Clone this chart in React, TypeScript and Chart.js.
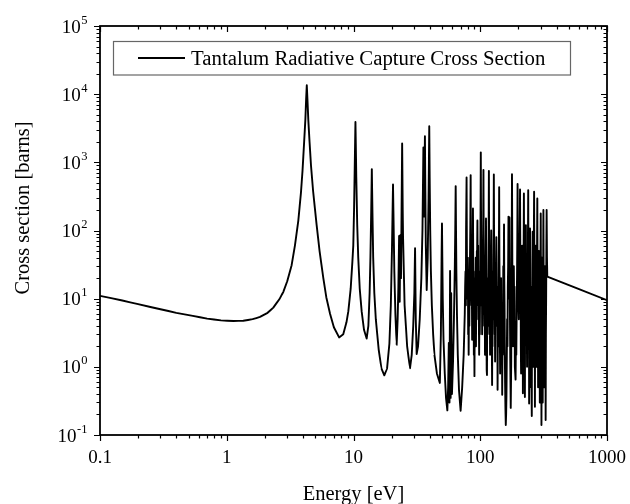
import { useEffect, useRef } from "react";
import { Chart, registerables } from "chart.js";

Chart.register(...registerables);

// [energy (eV), cross section (barns)]
const thermalRegion: [number, number][] = [
  [0.1, 11], [0.15, 9.4], [0.2, 8.3], [0.3, 7.0], [0.4, 6.2], [0.54, 5.6], [0.7, 5.1], [0.9, 4.8],
  [1.13, 4.7], [1.35, 4.75], [1.6, 5.0], [1.83, 5.4], [2.1, 6.2], [2.33, 7.4], [2.6, 9.8], [2.79, 12.5],
  [3.0, 18], [3.25, 31], [3.45, 60], [3.67, 140], [3.85, 360], [3.96, 750], [4.08, 2000], [4.17, 4200],
  [4.23, 8500], [4.28, 13500], [4.33, 8500], [4.4, 4200], [4.5, 2000], [4.62, 900], [4.8, 380], [5.12, 120],
  [5.4, 50], [5.78, 20], [6.1, 10.5], [6.53, 6.0], [7.0, 3.8], [7.7, 2.7], [8.3, 3.0], [8.8, 4.5],
  [9.1, 6.5], [9.5, 14], [9.8, 35], [9.96, 60], [10.1, 200], [10.22, 800], [10.3, 2000], [10.36, 3900],
  [10.42, 2000], [10.52, 600], [10.7, 120], [10.9, 40], [11.2, 14], [11.6, 6.5], [12.1, 3.5], [12.7, 2.6],
  [13.1, 4], [13.4, 12], [13.6, 40], [13.8, 200], [13.95, 795], [14.1, 200], [14.3, 40], [14.6, 12],
  [15.0, 5], [15.8, 1.8], [16.6, 0.95], [17.5, 0.75], [18.4, 0.95], [19.2, 2.2], [19.7, 8], [20.1, 50],
];

const lowResonances: [number, number][] = [
  [20.5, 474], [20.8, 80], [21.0, 25], [21.4, 6], [21.9, 2.1], [22.3, 5], [22.6, 15], [22.9, 83],
  [23.15, 9], [23.4, 85], [23.7, 20], [23.95, 200], [24.2, 1890], [24.45, 200], [24.6, 80], [25.3, 8],
  [26.5, 2], [27.9, 0.95], [28.8, 1.5], [29.6, 4], [30.2, 12], [30.6, 55], [31.0, 5], [31.5, 1.54],
  [32.3, 2], [33.3, 5], [34.3, 20], [35.0, 100], [35.6, 1650], [36.0, 160], [36.6, 2420], [37.2, 60],
  [37.8, 13.4], [38.5, 40], [39.1, 300], [39.6, 3390], [39.9, 600], [40.3, 100], [40.8, 25], [41.5, 8],
  [42.5, 3], [43.5, 1.5], [45.5, 0.8], [48, 0.58], [48.9, 3], [49.3, 15], [49.6, 50], [49.9, 127],
  [50.2, 40], [50.6, 10], [51.3, 2.5], [52.5, 0.8], [53.7, 0.35], [55, 0.23], [55.8, 0.5], [56.3, 1.5],
  [56.5, 2.25], [56.8, 0.6], [57.2, 0.3], [57.6, 5], [57.8, 25.6], [58.1, 2], [58.4, 0.35], [58.8, 3],
  [59, 12], [59.3, 2], [59.8, 0.4], [61, 1.2], [62, 5], [63, 30], [63.5, 100], [64, 448],
  [64.4, 100], [64.8, 25], [65.5, 6], [66.5, 1.5], [68, 0.45], [70, 0.227], [72, 0.5], [74, 1.5],
];

const midResonances: [number, number][] = [
  [75.5, 6], [76, 15], [76.5, 25], [77, 8], [77.3, 100], [78, 600], [78.4, 60], [78.8, 15],
  [79.3, 10], [79.8, 40], [80.3, 3], [80.7, 8], [81, 1.5], [81.5, 10], [82, 4], [82.5, 20],
  [83, 40], [83.5, 120], [84, 650], [84.4, 60], [84.8, 15], [85.3, 8], [85.8, 20], [86.3, 2.5],
  [86.7, 10], [87, 30], [87.6, 210], [88, 40], [88.3, 10], [88.7, 20], [89, 1.5], [89.5, 5],
  [90, 0.73], [90.5, 6], [91, 2], [91.4, 25], [91.8, 15], [92.2, 40], [92.5, 2], [93, 12],
  [93.5, 8], [94, 50], [94.3, 30], [95, 140], [95.4, 40], [95.8, 20], [96.2, 60], [96.5, 5],
  [96.9, 15], [97.2, 25], [97.6, 4], [98, 1.5], [98.7, 12], [99.1, 3], [99.5, 8], [100, 30],
  [100.4, 100], [101, 1400], [101.4, 200], [101.7, 80], [102, 20], [102.4, 8], [103, 30], [103.5, 3],
  [104, 12], [104.4, 6], [104.8, 20], [105.4, 90], [106, 770], [106.4, 100], [106.8, 40], [107.2, 12],
  [107.6, 4], [108, 20], [108.3, 15], [108.7, 5], [109, 1.5], [109.5, 12], [110, 8], [110.5, 40],
  [111, 150], [111.4, 30], [111.8, 8], [112.4, 0.9], [113, 0.76], [113.5, 8], [114, 3], [114.4, 12],
  [114.8, 20], [115.1, 6], [115.4, 4], [115.7, 15], [116, 30], [116.5, 100], [117, 750], [117.4, 100],
  [117.8, 40], [118.2, 10], [118.7, 3], [119.1, 8], [119.5, 1.5], [120, 10], [120.3, 20], [120.6, 5],
  [121, 8], [121.5, 30], [122, 100], [122.5, 20], [123, 4], [123.5, 2], [124, 0.54], [124.5, 4],
  [125, 2], [125.4, 10], [125.8, 25], [126.2, 8], [126.5, 5], [127, 40], [127.5, 100], [128, 665],
  [128.5, 100], [129, 40], [129.5, 8], [130, 3], [130.5, 6], [131, 1.2], [131.5, 5], [132, 10],
  [132.4, 25], [132.8, 6], [133.4, 20], [134, 80], [134.6, 15], [135.3, 4], [135.8, 8], [136.2, 15],
  [136.6, 3], [137, 0.46], [137.8, 4], [138.8, 2], [139.4, 10], [140, 40], [140.5, 80], [141, 430],
  [141.6, 40], [142.2, 15], [142.8, 3], [143.5, 0.8], [144, 3], [144.5, 6], [144.8, 2], [145, 2.5],
  [145.5, 8], [146, 20], [146.7, 4], [147.4, 1.5], [147.8, 4], [148.2, 6], [148.6, 1.5], [149, 0.39],
  [150, 3], [151, 1.5], [151.5, 8], [152, 30], [152.3, 12], [152.6, 8], [153.2, 15], [153.6, 40],
  [154, 123], [154.7, 20], [155.5, 8], [156.2, 2], [157, 0.6], [158, 0.25], [159, 0.14], [160, 0.2],
];

const highResonances: [number, number][] = [
  [161, 0.4], [163, 5], [164, 2], [165, 15], [166, 30], [167, 160], [168, 30], [168.5, 10],
  [169.2, 25], [170, 155], [171.2, 10], [172.5, 1.2], [174, 0.25], [175.5, 1.2], [176.3, 12], [177, 40],
  [178, 670], [179.2, 30], [180.5, 3], [181.3, 2], [182.7, 6], [183.4, 12], [184, 30], [185.5, 5],
  [186.4, 15], [187.5, 1], [190, 0.65], [191.5, 4], [192.5, 1.5], [194, 8], [195, 20], [196, 70],
  [197, 480], [198.5, 40], [199.2, 12], [200, 8], [201.5, 5], [202.5, 60], [203.5, 20], [205, 80],
  [206, 400], [207.5, 20], [208.3, 40], [209, 2], [210, 0.8], [211, 10], [212, 4], [213, 20],
  [214, 60], [215.5, 3], [216.3, 10], [217, 0.41], [218, 8], [219, 4], [220, 60], [221, 350],
  [222, 30], [223, 5], [224, 15], [225, 0.36], [226, 8], [227, 5], [228, 30], [229, 120],
  [230, 15], [231, 5], [232.5, 12], [234, 1.0], [235.5, 30], [236.5, 10], [238, 90], [239, 390],
  [240, 40], [241, 5], [242, 12], [243, 0.29], [244, 10], [245, 5], [246, 40], [247, 107],
  [248, 20], [249, 3], [250, 15], [251, 0.5], [253, 1], [255, 0.19], [256, 6], [257, 3],
  [258, 30], [259, 96], [260.5, 3], [261.2, 15], [262, 1], [263, 8], [264, 20], [265, 100],
  [266, 370], [267, 40], [268, 4], [269, 12], [270, 0.26], [271, 10], [272, 3], [273, 20],
  [274, 60], [275, 10], [276, 3], [277, 20], [278, 1], [279, 8], [280, 20], [281, 80],
  [282, 295], [283, 30], [284, 4], [285, 12], [286, 0.5], [287, 10], [288, 5], [289, 20],
  [290, 50], [291, 8], [292.5, 2], [294, 6], [295, 0.3], [296.5, 12], [297.5, 5], [299, 50],
  [300, 178], [301, 20], [302, 2], [303, 5], [304, 0.14], [305.5, 3], [306.3, 12], [307, 40],
  [308, 10], [309, 2], [310, 6], [311, 0.3], [312, 4], [313, 10], [314, 50], [315, 200],
  [316.5, 15], [317.5, 4], [318.5, 10], [320, 0.5], [321, 5], [322, 3], [323, 12], [324, 30],
  [325, 6], [326, 1], [327, 4], [328, 0.166], [329.5, 3], [331, 10], [332.5, 60], [334, 200],
  [336, 40], [338, 21],
];

const highEnergyTail: [number, number][] = [[1000, 9.5]];

const samples = [
  ...thermalRegion, ...lowResonances, ...midResonances, ...highResonances, ...highEnergyTail,
];
const energy = samples.map((p) => p[0]);
const crossSection = samples.map((p) => p[1]);

const xTickValues = [0.1, 1, 10, 100, 1000];
const xTickLabels = ["0.1", "1", "10", "100", "1000"];
const yTickValues = [0.1, 1, 10, 100, 1000, 10000, 100000];
const yTickExponents = ["-1", "0", "1", "2", "3", "4", "5"];
const seriesLabel = "Tantalum Radiative Capture Cross Section";
const xTitle = "Energy [eV]";
const yTitle = "Cross section [barns]";

const FONT = '"Liberation Serif", "Times New Roman", serif';

function minorTicks(majors: number[]): number[] {
  const out: number[] = [];
  for (let i = 0; i < majors.length - 1; i++) {
    for (let m = 2; m <= 9; m++) out.push(majors[i] * m);
  }
  return out;
}

const framePlugin = {
  id: "framePlugin",
  afterDraw(chart: any) {
    const { ctx, chartArea: a, scales } = chart;
    const xs = scales.x;
    const ys = scales.y;
    ctx.save();
    ctx.strokeStyle = "#000";
    ctx.lineWidth = 1.2;
    ctx.beginPath();
    const major = 6;
    const minor = 3.5;
    const xTicks = [
      ...xTickValues.map((v) => [v, major]),
      ...minorTicks(xTickValues).map((v) => [v, minor]),
    ];
    for (const [v, len] of xTicks) {
      const px = Math.round(xs.getPixelForValue(v)) + 0.5;
      ctx.moveTo(px, a.bottom);
      ctx.lineTo(px, a.bottom + len);
      ctx.moveTo(px, a.top);
      ctx.lineTo(px, a.top + len);
    }
    const yTicks = [
      ...yTickValues.map((v) => [v, major]),
      ...minorTicks(yTickValues).map((v) => [v, minor]),
    ];
    for (const [v, len] of yTicks) {
      const py = Math.round(ys.getPixelForValue(v)) + 0.5;
      ctx.moveTo(a.left - len, py);
      ctx.lineTo(a.left, py);
      ctx.moveTo(a.right - len, py);
      ctx.lineTo(a.right, py);
    }
    ctx.stroke();
    ctx.lineWidth = 1.8;
    ctx.strokeRect(a.left, a.top, a.right - a.left, a.bottom - a.top);

    ctx.fillStyle = "#000";
    ctx.font = `19px ${FONT}`;
    ctx.textAlign = "center";
    ctx.textBaseline = "alphabetic";
    xTickValues.forEach((v, i) => {
      ctx.fillText(xTickLabels[i], xs.getPixelForValue(v), a.bottom + 28);
    });

    yTickValues.forEach((v, i) => {
      const py = ys.getPixelForValue(v);
      ctx.font = `19px ${FONT}`;
      const wBase = ctx.measureText("10").width;
      ctx.font = `12.5px ${FONT}`;
      const wExp = ctx.measureText(yTickExponents[i]).width;
      const right = a.left - 13;
      const start = right - wBase - wExp;
      ctx.textAlign = "left";
      ctx.font = `19px ${FONT}`;
      ctx.fillText("10", start, py + 6.5);
      ctx.font = `12.5px ${FONT}`;
      ctx.fillText(yTickExponents[i], start + wBase + 0.5, py - 2.5);
    });

    ctx.font = `20.5px ${FONT}`;
    ctx.textAlign = "center";
    ctx.fillText(xTitle, (a.left + a.right) / 2, 500);
    ctx.save();
    ctx.translate(29, 208);
    ctx.rotate(-Math.PI / 2);
    ctx.fillText(yTitle, 0, 0);
    ctx.restore();

    ctx.strokeStyle = "#666";
    ctx.lineWidth = 1.2;
    ctx.strokeRect(113.5, 41.5, 457, 33.5);
    ctx.strokeStyle = "#000";
    ctx.lineWidth = 1.8;
    ctx.beginPath();
    ctx.moveTo(138, 58);
    ctx.lineTo(185, 58);
    ctx.stroke();
    ctx.font = `20.8px ${FONT}`;
    ctx.textAlign = "left";
    ctx.fillText(seriesLabel, 191, 65);
    ctx.restore();
  },
};

export default function App() {
  const canvasRef = useRef<HTMLCanvasElement | null>(null);
  useEffect(() => {
    if (!canvasRef.current) return;
    const chart = new Chart(canvasRef.current, {
      type: "line",
      data: {
        datasets: [
          {
            label: seriesLabel,
            data: energy.map((e, i) => ({ x: e, y: crossSection[i] })),
            borderColor: "#000",
            borderWidth: 1.9,
            borderJoinStyle: "round",
            pointRadius: 0,
            // a tiny tension avoids Chart.js's per-pixel "fast path" that merges close points
            tension: 0.000001,
            fill: false,
          },
        ],
      },
      options: {
        responsive: false,
        animation: false,
        layout: { padding: { left: 100, right: 23, top: 26, bottom: 69 } },
        plugins: { legend: { display: false }, tooltip: { enabled: false } },
        scales: {
          x: { type: "logarithmic", min: 0.1, max: 1000, display: false },
          y: { type: "logarithmic", min: 0.1, max: 100000, display: false },
        },
      },
      plugins: [framePlugin],
    });
    return () => chart.destroy();
  }, []);
  return (
    <div style={{ position: "fixed", left: 0, top: 0, width: 630, height: 504, background: "#fff" }}>
      <canvas ref={canvasRef} width={630} height={504} style={{ display: "block" }} />
    </div>
  );
}
